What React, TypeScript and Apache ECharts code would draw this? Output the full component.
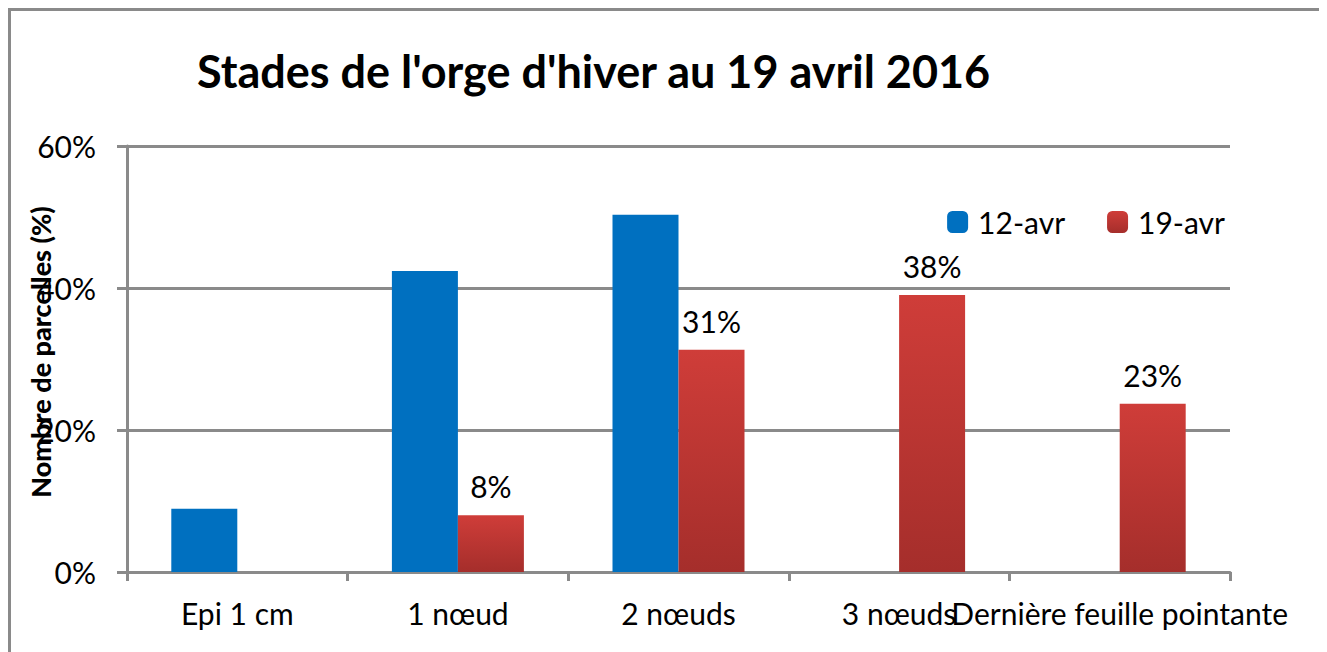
import React, { useEffect, useRef } from "react";
import * as echarts from "echarts";

const categories = ["Epi 1 cm", "1 nœud", "2 nœuds", "3 nœuds", "Dernière feuille pointante"];
const serie12avr = [8.9, 42.4, 50.3, 0, 0];
const serie19avr = [0, 8.0, 31.3, 39.0, 23.7];
const labels19avr = ["", "8%", "31%", "38%", "23%"];
const yTicks = [0, 20, 40, 60];

const FONT = "Lato";
const GRID = "#8a8a8a";

export default function App() {
  const ref = useRef<HTMLDivElement>(null);
  useEffect(() => {
    if (!ref.current) return;
    const chart = echarts.init(ref.current, null, { renderer: "svg" });
    chart.setOption({
      animation: false,
      backgroundColor: "#ffffff",
      title: {
        text: "Stades de l'orge d'hiver au 19 avril 2016",
        left: 184,
        top: 35,
        textStyle: { fontFamily: FONT, fontWeight: "bold", fontSize: 45, color: "#000" },
      },
      legend: {
        right: 94,
        top: 194,
        itemWidth: 21,
        itemHeight: 22,
        itemGap: 42,
        textStyle: { fontFamily: FONT, fontSize: 30, color: "#000", padding: [0, 0, 0, 5] },
        data: ["12-avr", "19-avr"],
      },
      graphic: [
        {
          type: "rect",
          shape: { x: 1.5, y: 1.5, width: 1312, height: 680 },
          style: { fill: "none", stroke: GRID, lineWidth: 3 },
          silent: true,
        },
        {
          type: "text",
          x: 32,
          y: 344,
          rotation: Math.PI / 2,
          style: {
            text: "Nombre de parcelles (%)",
            fontFamily: FONT,
            fontWeight: 900,
            fontSize: 27,
            fill: "#000",
            align: "center",
            verticalAlign: "middle",
          },
        },
      ],
      grid: { left: 119, top: 138, right: 94, bottom: 80, containLabel: false },
      xAxis: {
        type: "category",
        data: categories,
        axisLine: { lineStyle: { color: GRID, width: 3 } },
        axisTick: { show: true, length: 9, lineStyle: { color: GRID, width: 3 } },
        axisLabel: { fontFamily: FONT, fontSize: 30, color: "#000", margin: 26, interval: 0 },
      },
      yAxis: {
        type: "value",
        min: yTicks[0],
        max: yTicks[yTicks.length - 1],
        interval: 20,
        axisLine: { show: true, lineStyle: { color: GRID, width: 3 } },
        axisTick: { show: true, length: 10, lineStyle: { color: GRID, width: 3 } },
        splitLine: { lineStyle: { color: GRID, width: 3 } },
        axisLabel: {
          fontFamily: FONT,
          fontSize: 30,
          color: "#000",
          margin: 31,
          formatter: (v: number) => `${v}%`,
        },
      },
      series: [
        {
          name: "12-avr",
          type: "bar",
          data: serie12avr,
          barWidth: 66,
          barGap: "0%",
          itemStyle: { color: "#0070c0" },
        },
        {
          name: "19-avr",
          type: "bar",
          data: serie19avr,
          barWidth: 66,
          barGap: "0%",
          itemStyle: {
            color: new echarts.graphic.LinearGradient(0, 0, 0, 1, [
              { offset: 0, color: "#cf3d39" },
              { offset: 1, color: "#a52e2b" },
            ]),
          },
          label: {
            show: true,
            position: "top",
            distance: 14,
            fontFamily: FONT,
            fontSize: 30,
            color: "#000",
            formatter: (p: any) => labels19avr[p.dataIndex],
          },
        },
      ],
    });
    return () => chart.dispose();
  }, []);
  return <div ref={ref} style={{ width: 1316, height: 644 }} />;
}
